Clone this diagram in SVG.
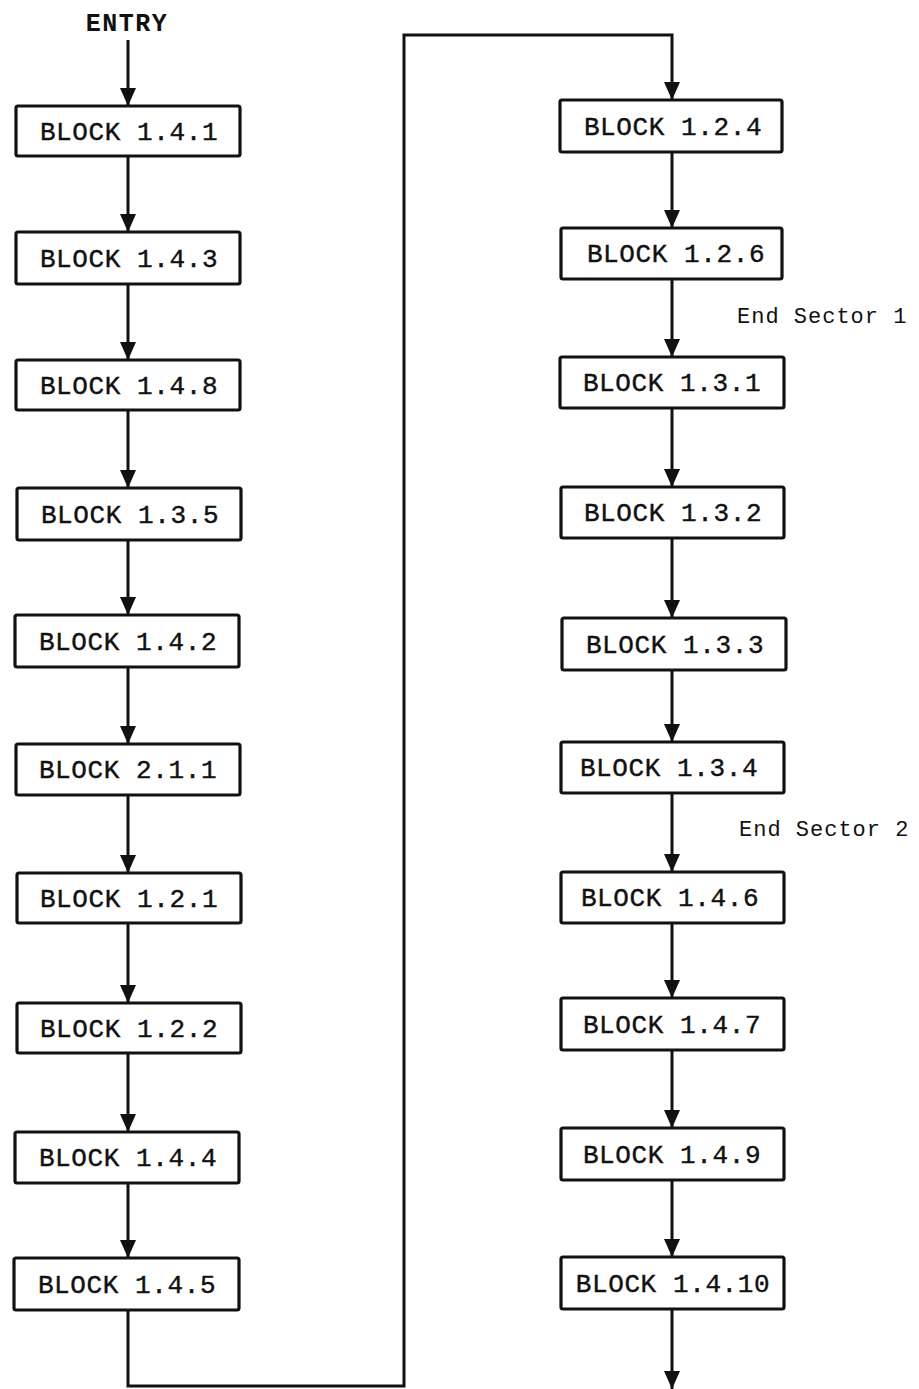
<svg xmlns="http://www.w3.org/2000/svg" width="919" height="1389" viewBox="0 0 919 1389">
<style>
.box{fill:#fff;stroke:#111;stroke-width:3.2}
.lbl{font-family:"Liberation Mono","DejaVu Sans Mono",monospace;font-size:26px;letter-spacing:0.6px;fill:#111;stroke:#111;stroke-width:0.4;text-anchor:middle}
.note{font-family:"Liberation Mono","DejaVu Sans Mono",monospace;font-size:22px;letter-spacing:1px;fill:#111}
.ent{font-family:"Liberation Mono","DejaVu Sans Mono",monospace;font-size:25px;font-weight:bold;letter-spacing:1.5px;fill:#111;text-anchor:middle}
.con{fill:none;stroke:#111;stroke-width:3}
</style>
<defs>
<marker id="ah" viewBox="0 0 18 16" refX="18" refY="8" markerWidth="18" markerHeight="16" markerUnits="userSpaceOnUse" orient="auto">
<path d="M0,0 L18,8 L0,16 z" fill="#111"/>
</marker>
</defs>
<rect width="919" height="1389" fill="#fff"/>
<text class="ent" x="127" y="31">ENTRY</text>
<g id="connectors">
<line class="con" x1="128" y1="40" x2="128" y2="106" marker-end="url(#ah)"/>
<line class="con" x1="128" y1="156" x2="128" y2="232" marker-end="url(#ah)"/>
<line class="con" x1="128" y1="284" x2="128" y2="360" marker-end="url(#ah)"/>
<line class="con" x1="128" y1="410" x2="128" y2="488" marker-end="url(#ah)"/>
<line class="con" x1="128" y1="540" x2="128" y2="615" marker-end="url(#ah)"/>
<line class="con" x1="128" y1="667" x2="128" y2="744" marker-end="url(#ah)"/>
<line class="con" x1="128" y1="795" x2="128" y2="873" marker-end="url(#ah)"/>
<line class="con" x1="128" y1="923" x2="128" y2="1003" marker-end="url(#ah)"/>
<line class="con" x1="128" y1="1053" x2="128" y2="1132" marker-end="url(#ah)"/>
<line class="con" x1="128" y1="1183" x2="128" y2="1258" marker-end="url(#ah)"/>
<path class="con" d="M128,1310 V1386 H404 V35 H672 V100" marker-end="url(#ah)"/>
<line class="con" x1="672" y1="152" x2="672" y2="228" marker-end="url(#ah)"/>
<line class="con" x1="672" y1="279" x2="672" y2="357" marker-end="url(#ah)"/>
<line class="con" x1="672" y1="408" x2="672" y2="487" marker-end="url(#ah)"/>
<line class="con" x1="672" y1="538" x2="672" y2="618" marker-end="url(#ah)"/>
<line class="con" x1="672" y1="670" x2="672" y2="742" marker-end="url(#ah)"/>
<line class="con" x1="672" y1="793" x2="672" y2="872" marker-end="url(#ah)"/>
<line class="con" x1="672" y1="923" x2="672" y2="998" marker-end="url(#ah)"/>
<line class="con" x1="672" y1="1050" x2="672" y2="1128" marker-end="url(#ah)"/>
<line class="con" x1="672" y1="1180" x2="672" y2="1257" marker-end="url(#ah)"/>
<line class="con" x1="672" y1="1309" x2="672" y2="1389" marker-end="url(#ah)"/>
</g>
<g id="n141"><rect class="box" x="16" y="106" width="224" height="50" rx="2"/><text class="lbl" x="129" y="140">BLOCK 1.4.1</text></g>
<g id="n143"><rect class="box" x="16" y="232" width="224" height="52" rx="2"/><text class="lbl" x="129" y="267">BLOCK 1.4.3</text></g>
<g id="n148"><rect class="box" x="16" y="360" width="224" height="50" rx="2"/><text class="lbl" x="129" y="394">BLOCK 1.4.8</text></g>
<g id="n135"><rect class="box" x="17" y="488" width="224" height="52" rx="2"/><text class="lbl" x="130" y="523">BLOCK 1.3.5</text></g>
<g id="n142"><rect class="box" x="15" y="615" width="224" height="52" rx="2"/><text class="lbl" x="128" y="650">BLOCK 1.4.2</text></g>
<g id="n211"><rect class="box" x="16" y="744" width="224" height="51" rx="2"/><text class="lbl" x="128" y="778">BLOCK 2.1.1</text></g>
<g id="n121"><rect class="box" x="17" y="873" width="224" height="50" rx="2"/><text class="lbl" x="129" y="907">BLOCK 1.2.1</text></g>
<g id="n122"><rect class="box" x="17" y="1003" width="224" height="50" rx="2"/><text class="lbl" x="129" y="1037">BLOCK 1.2.2</text></g>
<g id="n144"><rect class="box" x="15" y="1132" width="224" height="51" rx="2"/><text class="lbl" x="128" y="1166">BLOCK 1.4.4</text></g>
<g id="n145"><rect class="box" x="14" y="1258" width="225" height="52" rx="2"/><text class="lbl" x="127" y="1293">BLOCK 1.4.5</text></g>
<g id="n124"><rect class="box" x="560" y="100" width="222" height="52" rx="2"/><text class="lbl" x="673" y="135">BLOCK 1.2.4</text></g>
<g id="n126"><rect class="box" x="561" y="228" width="221" height="51" rx="2"/><text class="lbl" x="676" y="262">BLOCK 1.2.6</text></g>
<g id="n131"><rect class="box" x="560" y="357" width="224" height="51" rx="2"/><text class="lbl" x="672" y="391">BLOCK 1.3.1</text></g>
<g id="n132"><rect class="box" x="561" y="487" width="223" height="51" rx="2"/><text class="lbl" x="673" y="521">BLOCK 1.3.2</text></g>
<g id="n133"><rect class="box" x="562" y="618" width="224" height="52" rx="2"/><text class="lbl" x="675" y="653">BLOCK 1.3.3</text></g>
<g id="n134"><rect class="box" x="561" y="742" width="223" height="51" rx="2"/><text class="lbl" x="669" y="776">BLOCK 1.3.4</text></g>
<g id="n146"><rect class="box" x="561" y="872" width="223" height="51" rx="2"/><text class="lbl" x="670" y="906">BLOCK 1.4.6</text></g>
<g id="n147"><rect class="box" x="561" y="998" width="223" height="52" rx="2"/><text class="lbl" x="672" y="1033">BLOCK 1.4.7</text></g>
<g id="n149"><rect class="box" x="561" y="1128" width="223" height="52" rx="2"/><text class="lbl" x="672" y="1163">BLOCK 1.4.9</text></g>
<g id="n1410"><rect class="box" x="561" y="1257" width="223" height="52" rx="2"/><text class="lbl" x="673" y="1292">BLOCK 1.4.10</text></g>
<text class="note" x="737" y="323">End Sector 1</text>
<text class="note" x="739" y="836">End Sector 2</text>
</svg>
